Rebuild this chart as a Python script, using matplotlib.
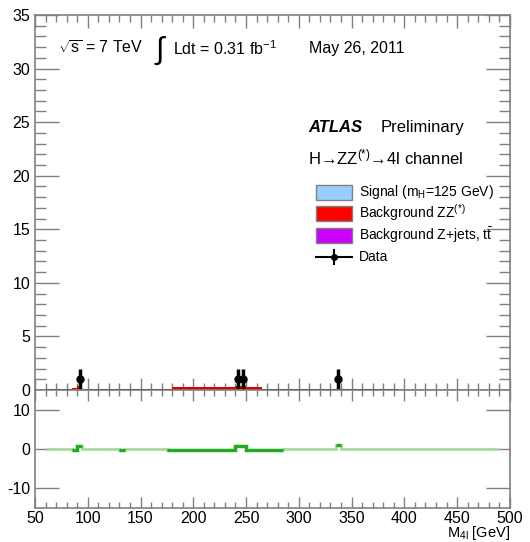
import numpy as np
import matplotlib
matplotlib.use('Agg')
from matplotlib import pyplot as plt
from matplotlib.patches import Rectangle
from matplotlib.lines import Line2D
from matplotlib.ticker import MultipleLocator

plt.rcParams['font.family'] = ['Liberation Sans', 'DejaVu Sans']
plt.rcParams['mathtext.fontset'] = 'custom'
plt.rcParams['mathtext.rm'] = 'Liberation Sans'
plt.rcParams['mathtext.it'] = 'Liberation Sans:italic'
plt.rcParams['mathtext.bf'] = 'Liberation Sans:bold'
plt.rcParams['axes.unicode_minus'] = False

# m4l binning (GeV)
bin_lo, bin_hi, bin_w = 60, 490, 5
mc_hi = 395  # expected histogram drawn up to here

# ZZ(*) background: bin ranges and events per bin
zz_start = [85, 90, 180, 240, 250]
zz_end = [90, 95, 240, 250, 265]
zz_val = [0.2, 0.35, 0.3, 0.35, 0.25]

# Z+jets, ttbar background
zj_start = [130, 175, 265]
zj_end = [135, 180, 285]
zj_val = [0.15, 0.15, 0.15]

# observed candidates
data_mass = [92.5, 242.5, 247.5, 337.5]
data_count = [1, 1, 1, 1]

edges = np.arange(bin_lo, bin_hi + bin_w, bin_w)
centers = 0.5 * (edges[:-1] + edges[1:])


def fill_bins(starts, ends, vals):
    h = np.zeros(len(centers))
    for s, e, v in zip(starts, ends, vals):
        h[(centers > s) & (centers < e)] = v
    return h


zz = fill_bins(zz_start, zz_end, zz_val)
zj = fill_bins(zj_start, zj_end, zj_val)
total = zz + zj
obs, _ = np.histogram(data_mass, bins=edges, weights=data_count)
resid = obs - total

grey = '#808080'
fig = plt.figure(figsize=(5.3, 5.42), dpi=100)
ax = fig.add_axes([0.066, 0.2804, 0.896, 0.6919])
axr = fig.add_axes([0.066, 0.0627, 0.896, 0.2177])

# top panel
n_mc = int((mc_hi - bin_lo) / bin_w)
ax.stairs(np.zeros(n_mc), edges[:n_mc + 1], color='black', lw=1.5, zorder=3, clip_on=False)
ax.stairs(zz[:n_mc], edges[:n_mc + 1], fill=True, color='#dd0000', zorder=4)
ax.errorbar(data_mass, data_count, yerr=np.sqrt(data_count), fmt='o', color='black',
            ms=5, elinewidth=2.5, capsize=0, zorder=5)
ax.set_xlim(50, 500)
ax.set_ylim(0, 35)
ax.yaxis.set_major_locator(MultipleLocator(5))
ax.yaxis.set_minor_locator(MultipleLocator(1))
ax.xaxis.set_major_locator(MultipleLocator(50))
ax.xaxis.set_minor_locator(MultipleLocator(10))
ax.tick_params(labelbottom=False)

# residual panel
axr.stairs(resid, edges, color='#a6dba0', lw=2, zorder=2)
nonzero = np.abs(resid) > 1e-9
i = 0
while i < len(centers):
    if nonzero[i]:
        j = i
        while j + 1 < len(centers) and nonzero[j + 1]:
            j += 1
        axr.stairs(resid[i:j + 1], edges[i:j + 2], color='#22aa22', lw=2.5, zorder=3,
                   baseline=None)
        i = j + 1
    else:
        i += 1
axr.set_xlim(50, 500)
axr.set_ylim(-15, 15)
axr.set_yticks([-10, 0, 10])
axr.xaxis.set_major_locator(MultipleLocator(50))
axr.xaxis.set_minor_locator(MultipleLocator(10))
axr.set_xlabel('M$_{\\mathrm{4l}}$ [GeV]', fontsize=10.5, loc='right', labelpad=-1)

for a in (ax, axr):
    for s in a.spines.values():
        s.set_color(grey)
        s.set_linewidth(1.2)
    a.tick_params(which='both', direction='in', top=True, right=True, color=grey,
                  labelcolor='black', labelsize=11.5, width=1.0)
ax.tick_params(axis='y', which='major', length=17)
ax.tick_params(axis='y', which='minor', length=8)
ax.tick_params(axis='x', which='major', length=9)
ax.tick_params(axis='x', which='minor', length=5)
axr.tick_params(axis='y', which='major', length=17)
axr.tick_params(axis='x', which='major', length=8)
axr.tick_params(axis='x', which='minor', length=4)
axr.tick_params(axis='x', pad=2)

# annotations
ax.text(0.048, 0.91, '$\\sqrt{\\mathrm{s}}$ = 7 TeV', transform=ax.transAxes, fontsize=11.5, va='center')
ax.text(0.25, 0.905, '$\\int$', transform=ax.transAxes, fontsize=22, va='center')
ax.text(0.29, 0.91, 'Ldt = 0.31 fb$^{\\mathrm{-1}}$', transform=ax.transAxes, fontsize=11.5, va='center')
ax.text(0.578, 0.91, 'May 26, 2011', transform=ax.transAxes, fontsize=11.5, va='center')
ax.text(0.575, 0.70, 'ATLAS', transform=ax.transAxes, fontsize=12, fontweight='bold',
        fontstyle='italic', va='center')
ax.text(0.727, 0.70, 'Preliminary', transform=ax.transAxes, fontsize=12, va='center')
ax.text(0.575, 0.621, 'H\u2192ZZ$^{(*)}$\u21924l channel', transform=ax.transAxes,
        fontsize=12, va='center')

leg_labels = ['Signal (m$_{\\mathrm{H}}$=125 GeV)', 'Background ZZ$^{(*)}$',
              'Background Z+jets, t$\\bar{\\mathrm{t}}$', 'Data']
leg_colors = ['#99ccff', 'red', '#cc00ff', None]
leg_y = [0.528, 0.472, 0.413, 0.355]
for lab, col, yy in zip(leg_labels, leg_colors, leg_y):
    if col is not None:
        ax.add_patch(Rectangle((0.592, yy - 0.02), 0.075, 0.04, transform=ax.transAxes,
                               facecolor=col, edgecolor=grey, lw=1, clip_on=False))
    else:
        ax.add_line(Line2D([0.592, 0.667], [yy, yy], transform=ax.transAxes, color='black', lw=1.5))
        ax.add_line(Line2D([0.63, 0.63], [yy - 0.018, yy + 0.018], transform=ax.transAxes,
                           color='black', lw=1.5))
        ax.add_line(Line2D([0.63], [yy], transform=ax.transAxes, marker='o', ms=4, color='black'))
    ax.text(0.682, yy, lab, transform=ax.transAxes, fontsize=10, va='center')

fig.savefig('out.png', dpi=100)
